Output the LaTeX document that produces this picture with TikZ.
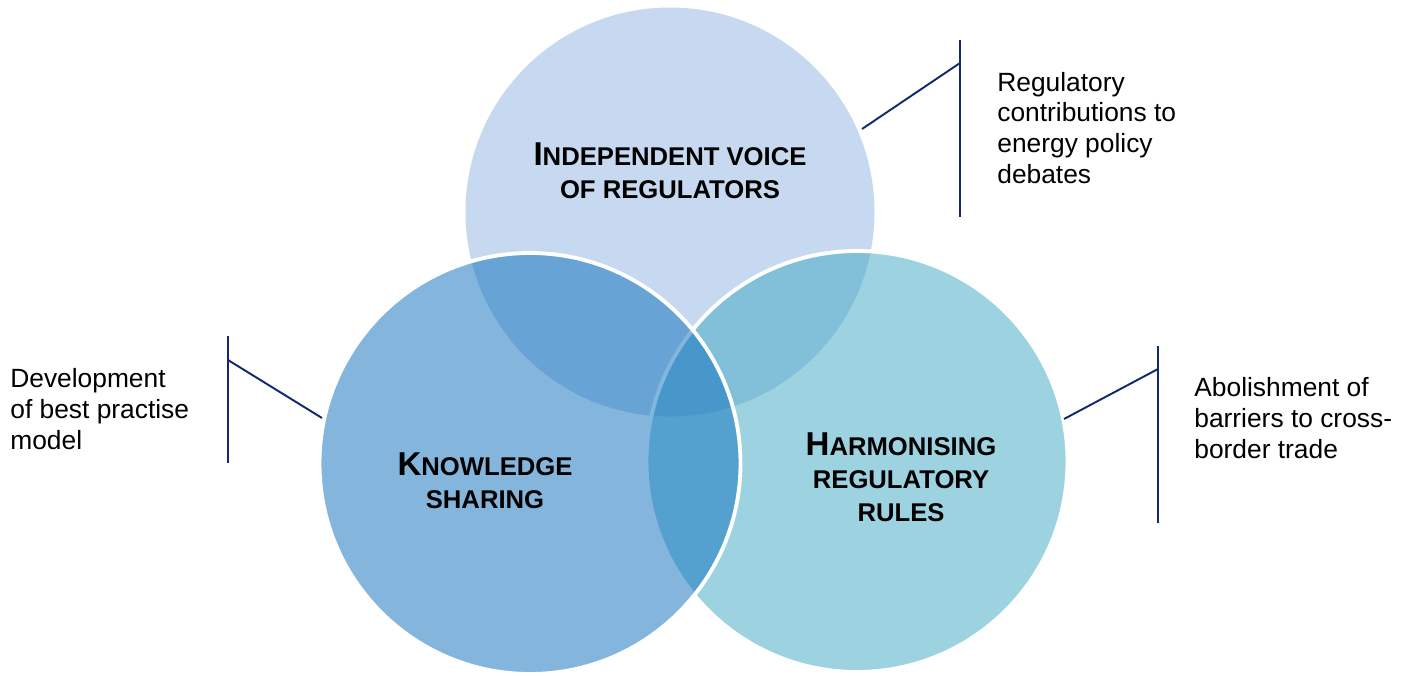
\documentclass[tikz,border=0pt]{standalone}
\usepackage{fontspec}
\setmainfont{Liberation Sans}
\usepackage{xcolor}
\usetikzlibrary{positioning}

\definecolor{voiceblue}{RGB}{198,217,240}
\definecolor{sharingblue}{RGB}{18,114,190}
\definecolor{rulesblue}{RGB}{68,170,198}
\definecolor{calloutnavy}{RGB}{20,40,110}

\newcommand{\capfirst}[1]{{\fontsize{18.8}{20}\selectfont #1}}

\tikzset{
  venn/.style={draw=white, line width=2.2pt, fill opacity=0.52},
  headline/.style={font=\fontsize{14.6}{18.7}\selectfont\bfseries, align=center, inner sep=0pt},
  note/.style={font=\fontsize{15}{17.6}\selectfont, align=left, anchor=west, inner sep=0pt},
  bracket/.style={calloutnavy, line width=1.1pt}
}

\begin{document}
\begin{tikzpicture}

\useasboundingbox (0,0) rectangle (28.2,13.5);

% --- Circles ---
\fill[voiceblue] (13.40,9.26) circle (4.09);
\path[venn, fill=rulesblue] (17.14,4.27) circle (4.21);
\path[venn, fill=sharingblue] (10.60,4.23) circle (4.21);

% --- Circle titles ---
\node[headline] (voice) at (13.40,10.08) {\capfirst{I}NDEPENDENT VOICE\\OF REGULATORS};
\node[headline] (sharing) at (9.70,3.88) {\capfirst{K}NOWLEDGE\\SHARING};
\node[headline] (rules) at (18.02,3.96) {\capfirst{H}ARMONISING\\REGULATORY\\RULES};

% --- Callout: top right ---
\coordinate (voice-top) at (19.20,12.70);
\coordinate (voice-bot) at (19.20,9.16);
\coordinate (voice-hook) at (19.20,12.24);
\coordinate (voice-edge) at (17.24,10.92);
\draw[bracket] (voice-top) -- (voice-bot);
\draw[bracket] (voice-edge) -- (voice-hook);
\node[note] (voice-note) at (19.94,10.94) {Regulatory\\contributions to\\energy policy\\debates};

% --- Callout: left ---
\coordinate (sharing-top) at (4.56,6.78);
\coordinate (sharing-bot) at (4.56,4.24);
\coordinate (sharing-hook) at (4.56,6.30);
\coordinate (sharing-edge) at (6.44,5.14);
\draw[bracket] (sharing-top) -- (sharing-bot);
\draw[bracket] (sharing-hook) -- (sharing-edge);
\node[note] (sharing-note) at (0.20,5.31) {Development\\of best practise\\model};

% --- Callout: right ---
\coordinate (rules-top) at (23.16,6.58);
\coordinate (rules-bot) at (23.16,3.04);
\coordinate (rules-hook) at (23.16,6.12);
\coordinate (rules-edge) at (21.28,5.12);
\draw[bracket] (rules-top) -- (rules-bot);
\draw[bracket] (rules-edge) -- (rules-hook);
\node[note] (rules-note) at (23.88,5.13) {Abolishment of\\barriers to cross-\\border trade};

\end{tikzpicture}
\end{document}
